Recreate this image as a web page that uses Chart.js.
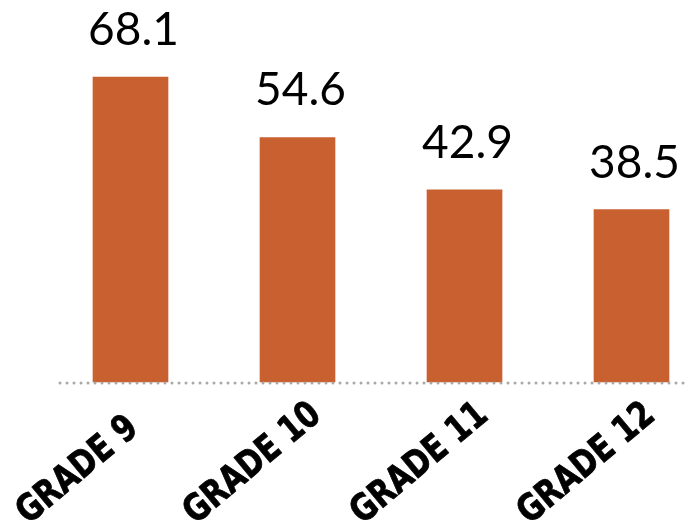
<!DOCTYPE html>
<html>
<head>
<meta charset="utf-8">
<script src="https://cdn.jsdelivr.net/npm/chart.js@4/dist/chart.umd.min.js"></script>
<style>
  html, body { margin: 0; padding: 0; background: #ffffff; }
  #wrap { width: 686px; height: 528px; }
</style>
</head>
<body>
<div id="wrap"><canvas id="c" width="686" height="528"></canvas></div>
<script>
const grades = ['GRADE 9', 'GRADE 10', 'GRADE 11', 'GRADE 12'];
const values = [68.1, 54.6, 42.9, 38.5];
const valueLabels = ['68.1', '54.6', '42.9', '38.5'];

const barColor = '#C86030';

// Number written above each bar
const valueLabelPlugin = {
  id: 'valueLabels',
  afterDatasetsDraw(chart) {
    const ctx = chart.ctx;
    const meta = chart.getDatasetMeta(0);
    ctx.save();
    ctx.fillStyle = '#000000';
    ctx.font = '46px Lato, "Noto Sans", sans-serif';
    ctx.textAlign = 'center';
    ctx.textBaseline = 'alphabetic';
    meta.data.forEach((bar, i) => {
      ctx.fillText(valueLabels[i], bar.x + 3, bar.y - 32);
    });
    ctx.restore();
  }
};

// Dotted baseline at zero, running to the right edge
const baselinePlugin = {
  id: 'dottedBaseline',
  afterDatasetsDraw(chart) {
    const ctx = chart.ctx;
    const y = chart.scales.y.getPixelForValue(0) + 1;
    ctx.save();
    ctx.strokeStyle = '#a8a8a8';
    ctx.lineWidth = 3;
    ctx.lineCap = 'round';
    ctx.setLineDash([0, 7]);
    ctx.beginPath();
    ctx.moveTo(60, y);
    ctx.lineTo(chart.width, y);
    ctx.stroke();
    ctx.restore();
  }
};

// Slanted, narrow category labels, started from a fixed point left of each bar
const slantedLabelPlugin = {
  id: 'slantedLabels',
  afterDraw(chart) {
    const ctx = chart.ctx;
    const xs = chart.scales.x;
    const baseY = chart.scales.y.getPixelForValue(0);
    ctx.save();
    ctx.fillStyle = '#000000';
    ctx.strokeStyle = '#000000';
    ctx.lineWidth = 0.8;
    ctx.lineJoin = 'round';
    ctx.font = 'bold 37px "DejaVu Sans", sans-serif';
    ctx.textAlign = 'left';
    ctx.textBaseline = 'alphabetic';
    grades.forEach((label, i) => {
      const x = xs.getPixelForValue(i);
      ctx.save();
      ctx.translate(x - 102, baseY + 143);
      ctx.rotate(-40 * Math.PI / 180);
      ctx.scale(0.8, 1);
      ctx.fillText(label, 0, 0);
      ctx.strokeText(label, 0, 0);
      ctx.restore();
    });
    ctx.restore();
  }
};

new Chart(document.getElementById('c'), {
  type: 'bar',
  data: {
    labels: grades,
    datasets: [{
      data: values,
      backgroundColor: barColor,
      borderWidth: 0,
      barThickness: 75,
      clip: false
    }]
  },
  options: {
    responsive: false,
    animation: false,
    layout: { padding: { left: 130.5, right: 54.5, top: 0, bottom: 0 } },
    plugins: {
      legend: { display: false },
      tooltip: { enabled: false }
    },
    scales: {
      x: {
        offset: false,
        grid: { display: false },
        border: { display: false },
        ticks: { display: false },
        afterFit(scale) { scale.height = 146; scale.paddingLeft = 0; scale.paddingRight = 0; }
      },
      y: {
        display: false,
        min: 0,
        max: 85.3
      }
    }
  },
  plugins: [baselinePlugin, valueLabelPlugin, slantedLabelPlugin]
});
</script>
</body>
</html>
